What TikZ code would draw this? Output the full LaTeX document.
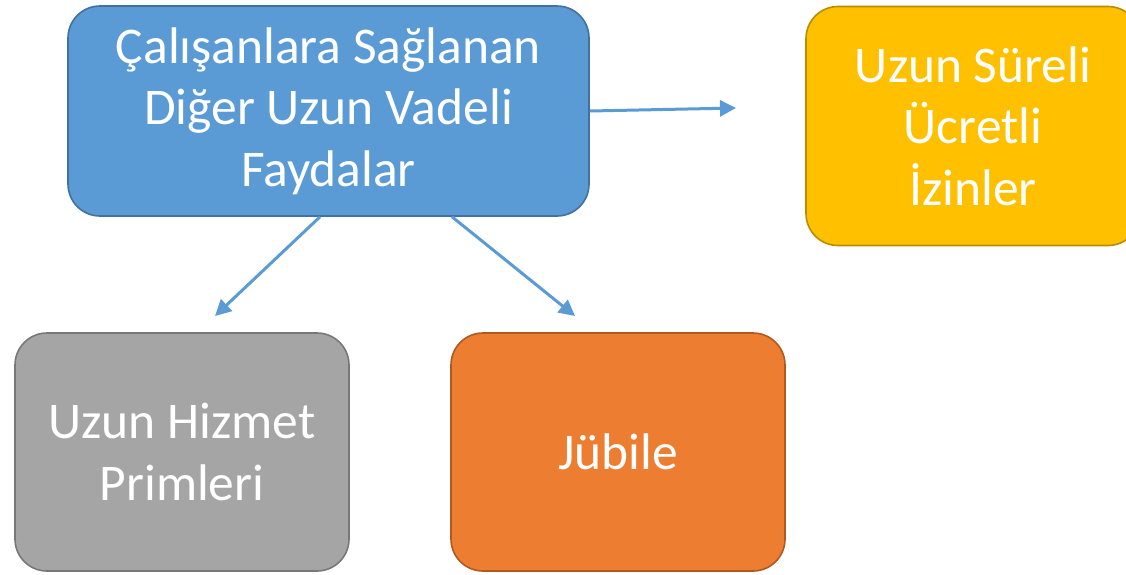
\documentclass[tikz,border=0pt]{standalone}
\usepackage{fontspec}
\setmainfont{Carlito}
\usetikzlibrary{arrows.meta,calc}
\definecolor{cblue}{HTML}{5B9BD5}
\definecolor{cblueD}{HTML}{41719C}
\definecolor{cyel}{HTML}{FFC000}
\definecolor{cyelD}{HTML}{BC8C00}
\definecolor{cgray}{HTML}{A5A5A5}
\definecolor{cgrayD}{HTML}{787878}
\definecolor{corg}{HTML}{ED7D31}
\definecolor{corgD}{HTML}{AE5A21}
\tikzset{
  box/.style={rectangle, rounded corners=32pt, line width=1.6pt, text=white, align=center,
    font=\fontsize{51.5}{61.5}\selectfont, inner sep=0pt},
  conn/.style={draw=cblue, line width=3pt, -{Triangle[length=16pt,width=16pt]}}
}
\begin{document}
\begin{tikzpicture}[x=1pt,y=-1pt]
\useasboundingbox (0,0) rectangle (1126,574);
\clip (0,0) rectangle (1126,574);
\node[box, fill=cblue, draw=cblueD, minimum width=521pt, minimum height=210pt] (blue) at (328.5,111) {Çalışanlara Sağlanan\\Diğer Uzun Vadeli\\Faydalar};
\node[box, fill=cyel, draw=cyelD, minimum width=334pt, minimum height=239pt] (yel) at (973,126) {Uzun Süreli\\Ücretli\\İzinler};
\node[box, fill=cgray, draw=cgrayD, minimum width=334pt, minimum height=238pt] (gray) at (182,452) {Uzun Hizmet\\Primleri};
\node[box, fill=corg, draw=corgD, minimum width=334pt, minimum height=238pt] (org) at (618,452) {Jübile};
\coordinate (s1) at (blue.south -| 320,0);
\coordinate (s2) at (blue.south -| 452,0);
\coordinate (e0) at (736,108);
\coordinate (e1) at (215,316);
\coordinate (e2) at (575,316);
\draw[conn] (blue.east) -- (e0);
\draw[conn] (s1) -- (e1);
\draw[conn] (s2) -- (e2);
\end{tikzpicture}
\end{document}
